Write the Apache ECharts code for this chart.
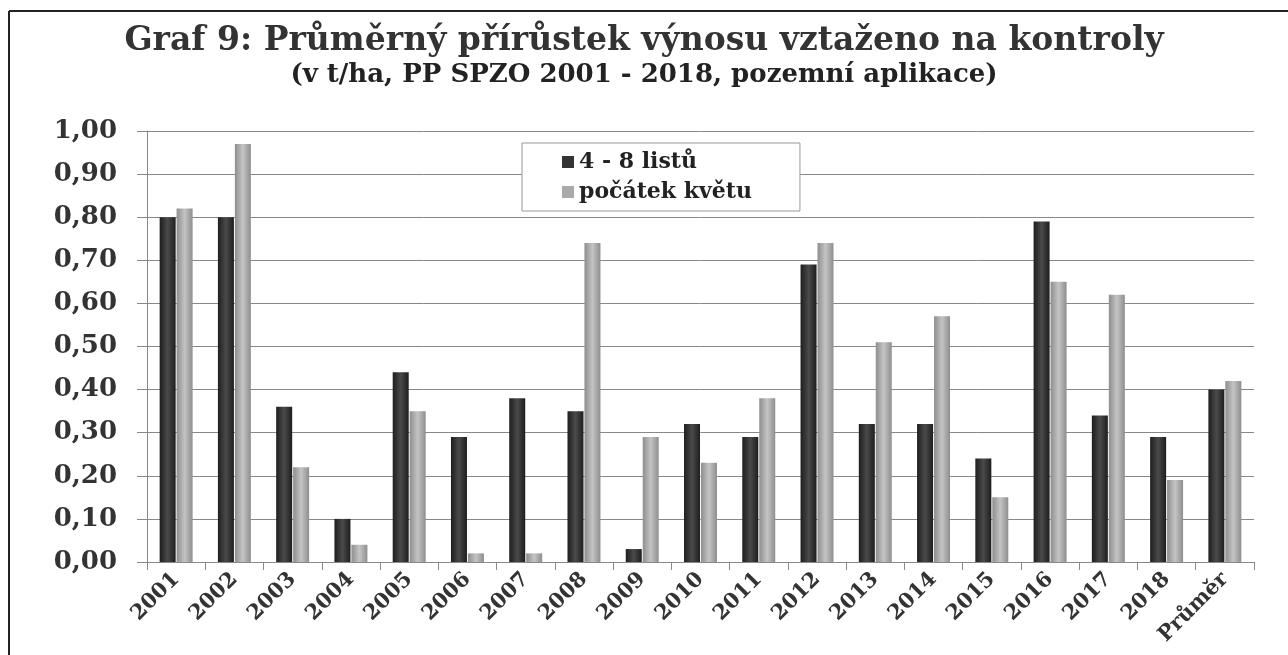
<!DOCTYPE html>
<html>
<head>
<meta charset="utf-8">
<script src="https://cdn.jsdelivr.net/npm/echarts@6/dist/echarts.min.js"></script>
<style>
  html, body { margin: 0; padding: 0; background: #fff; }
  #chart { width: 1288px; height: 655px; }
</style>
</head>
<body>
<div id="chart"></div>
<script>
// kategorie (roky + průměr)
var categories = ["2001", "2002", "2003", "2004", "2005", "2006", "2007", "2008", "2009", "2010",
  "2011", "2012", "2013", "2014", "2015", "2016", "2017", "2018", "Průměr"];
// 4 - 8 listů
var listy = [0.80, 0.80, 0.36, 0.10, 0.44, 0.29, 0.38, 0.35, 0.03, 0.32,
  0.29, 0.69, 0.32, 0.32, 0.24, 0.79, 0.34, 0.29, 0.40];
// počátek květu
var kvet = [0.82, 0.97, 0.22, 0.04, 0.35, 0.02, 0.02, 0.74, 0.29, 0.23,
  0.38, 0.74, 0.51, 0.57, 0.15, 0.65, 0.62, 0.19, 0.42];

var font = "'DejaVu Serif', 'Liberation Serif', serif";

// válcový efekt sloupců
function cyl(edge, mid) {
  return new echarts.graphic.LinearGradient(0, 0, 1, 0, [
    { offset: 0, color: edge },
    { offset: 0.5, color: mid },
    { offset: 1, color: edge }
  ]);
}

var chart = echarts.init(document.getElementById("chart"));
chart.setOption({
  backgroundColor: "#fff",
  animation: false,
  title: {
    text: "Graf 9: Průměrný přírůstek výnosu vztaženo na kontroly",
    subtext: "(v t/ha, PP SPZO 2001 - 2018, pozemní aplikace)",
    left: "center",
    top: 20,
    itemGap: 4,
    textStyle: { fontFamily: font, fontSize: 33, fontWeight: "bold", color: "#333" },
    subtextStyle: { fontFamily: font, fontSize: 26, fontWeight: "bold", color: "#222" }
  },
  legend: {
    orient: "vertical",
    left: 522,
    top: 143,
    padding: [8, 48, 8, 40],
    itemGap: 8,
    itemWidth: 12,
    itemHeight: 12,
    backgroundColor: "#fff",
    borderColor: "#999",
    borderWidth: 1,
    textStyle: { fontFamily: font, fontSize: 22, fontWeight: "bold", color: "#222" },
    data: [
      { name: "4 - 8 listů", icon: "rect", itemStyle: { color: "#333" } },
      { name: "počátek květu", icon: "rect", itemStyle: { color: "#aaa" } }
    ]
  },
  grid: { left: 147, right: 34, top: 131, bottom: 93 },
  xAxis: {
    type: "category",
    data: categories,
    axisLine: { lineStyle: { color: "#888", width: 1 } },
    axisTick: { show: true, length: 8, lineStyle: { color: "#888" } },
    axisLabel: {
      interval: 0,
      rotate: 45,
      margin: 14,
      fontFamily: font,
      fontSize: 21,
      fontWeight: "bold",
      color: "#333"
    }
  },
  yAxis: {
    type: "value",
    min: 0,
    max: 1,
    interval: 0.1,
    axisLine: { show: true, lineStyle: { color: "#888" } },
    axisTick: { show: true, length: 10, inside: false, lineStyle: { color: "#888" } },
    splitLine: { lineStyle: { color: "#888", width: 1 } },
    axisLabel: {
      margin: 30,
      fontFamily: font,
      fontSize: 26,
      fontWeight: "bold",
      color: "#333",
      formatter: function (v) { return v.toFixed(2).replace(".", ","); }
    }
  },
  series: [
    {
      name: "4 - 8 listů",
      type: "bar",
      data: listy,
      barWidth: 16,
      barGap: "6%",
      itemStyle: { color: cyl("#1e1e1e", "#4a4a4a") }
    },
    {
      name: "počátek květu",
      type: "bar",
      data: kvet,
      barWidth: 16,
      itemStyle: { color: cyl("#8e8e8e", "#c4c4c4") }
    }
  ],
  graphic: [
    { type: "line", shape: { x1: 9, y1: 11, x2: 1288, y2: 11 }, style: { stroke: "#222", lineWidth: 2 } },
    { type: "line", shape: { x1: 9, y1: 11, x2: 9, y2: 655 }, style: { stroke: "#222", lineWidth: 2 } }
  ]
});
</script>
</body>
</html>
